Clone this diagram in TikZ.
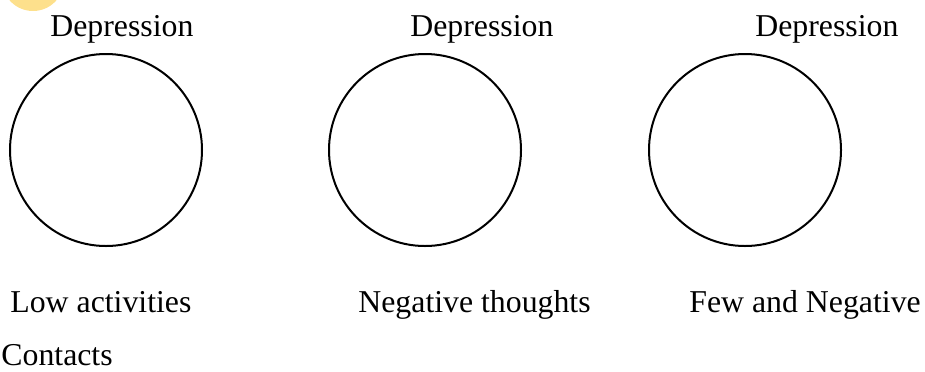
\documentclass[tikz,border=0pt]{standalone}
\usepackage{fontspec}
\setmainfont{Liberation Serif}
\definecolor{blob}{RGB}{253,224,140}
\begin{document}
\begin{tikzpicture}[
  x=0.5pt, y=-0.5pt,
  ring/.style={circle, draw, line width=1pt, minimum size=96pt, inner sep=0pt},
  lbl/.style={anchor=base west, inner sep=0pt, font=\fontsize{15.9}{19}\selectfont},
]
  \useasboundingbox (0,0) rectangle (925,371);
  \begin{scope}
    \clip (0,0) rectangle (925,371);
    \fill[blob] (33,-20) circle[radius=15.5pt];
  \end{scope}

  \foreach \i/\cx/\tx in {1/106/50, 2/425/410, 3/745/755} {
    \node[ring] (c\i) at (\cx, 150) {};
    \node[lbl] (d\i) at (\tx, 36) {Depression};
  }

  \node[lbl] (low) at (10, 312) {Low activities};
  \node[lbl] (neg) at (358, 312) {Negative thoughts};
  \node[lbl] (few) at (689, 312) {Few and Negative};
  \node[lbl] (cont) at (1, 365) {Contacts};
\end{tikzpicture}
\end{document}
